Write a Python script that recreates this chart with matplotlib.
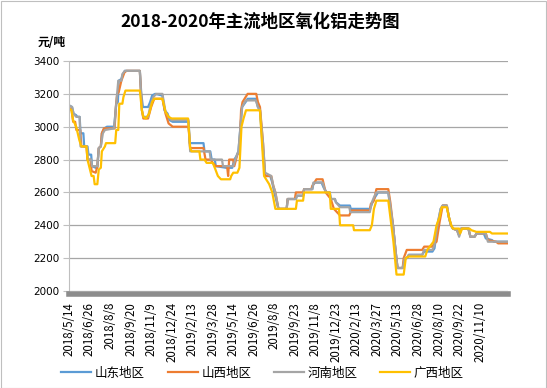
import matplotlib
matplotlib.use("Agg")
import matplotlib.pyplot as plt
import numpy as np
from matplotlib.patches import Rectangle

plt.rcParams['font.family'] = ['Noto Sans CJK SC', 'DejaVu Sans']

title = "2018-2020年主流地区氧化铝走势图"
unit = "元/吨"
date_labels = ["2018/5/14", "2018/6/26", "2018/8/8", "2018/9/20", "2018/11/9", "2018/12/24",
               "2019/2/13", "2019/3/28", "2019/5/14", "2019/6/26", "2019/8/8", "2019/9/23",
               "2019/11/8", "2019/12/23", "2020/2/13", "2020/3/27", "2020/5/13", "2020/6/28",
               "2020/8/10", "2020/9/22", "2020/11/10"]
series_names = ["山东地区", "山西地区", "河南地区", "广西地区"]
colors = ["#5B9BD5", "#ED7D31", "#A5A5A5", "#FFC000"]

# positions are in units of the label spacing (0 = 2018/5/14)
shandong_x = [0, 0.15, 0.22, 0.35, 0.4, 0.52, 0.56, 0.7, 0.74, 0.9, 0.95, 1.08, 1.12, 1.3, 1.38, 1.45, 1.55, 1.6, 1.72, 1.85, 2.2, 2.3, 2.38, 2.42, 2.55, 2.62, 2.72, 3.45, 3.52, 3.6, 3.85, 3.95, 4.05, 4.2, 4.55, 4.65, 4.8, 4.9, 5.05, 5.82, 5.88, 6.55, 6.6, 6.88, 6.95, 7.1, 7.15, 7.65, 7.95, 8.05, 8.15, 8.25, 8.35, 8.43, 8.6, 8.7, 9.1, 9.2, 9.3, 9.42, 9.55, 9.8, 9.9, 10.0, 10.2, 10.6, 10.65, 11.05, 11.1, 11.4, 11.45, 11.85, 11.9, 12.0, 12.3, 12.4, 12.55, 12.7, 12.75, 12.95, 13.0, 13.2, 13.68, 13.72, 14.65, 14.75, 14.85, 14.95, 15.05, 15.55, 15.65, 15.78, 15.9, 16.0, 16.25, 16.35, 16.45, 16.55, 17.2, 17.3, 17.7, 17.8, 17.95, 18.1, 18.2, 18.4, 18.5, 18.6, 18.7, 18.9, 19.0, 19.1, 19.45, 19.55, 19.75, 19.85, 20.2, 20.3, 20.6, 20.7, 21.4]
shandong_y = [3130, 3120, 3080, 3070, 3060, 3060, 2960, 2960, 2880, 2880, 2830, 2830, 2760, 2750, 2750, 2870, 2880, 2960, 2990, 3000, 3000, 3140, 3150, 3280, 3290, 3320, 3340, 3340, 3200, 3120, 3120, 3150, 3190, 3200, 3190, 3100, 3080, 3040, 3030, 3030, 2900, 2900, 2850, 2850, 2800, 2800, 2760, 2750, 2750, 2800, 2820, 2850, 3000, 3120, 3150, 3170, 3170, 3120, 3100, 2900, 2700, 2700, 2660, 2600, 2500, 2500, 2560, 2560, 2580, 2580, 2620, 2620, 2650, 2660, 2660, 2630, 2600, 2600, 2560, 2560, 2540, 2520, 2520, 2500, 2500, 2530, 2560, 2580, 2600, 2600, 2500, 2400, 2250, 2140, 2140, 2200, 2200, 2220, 2220, 2240, 2240, 2260, 2400, 2500, 2520, 2520, 2450, 2400, 2380, 2370, 2340, 2380, 2380, 2330, 2330, 2350, 2350, 2320, 2310, 2300, 2300]

shanxi_x = [0, 0.12, 0.2, 0.3, 0.36, 0.55, 0.6, 0.85, 0.9, 1.05, 1.1, 1.3, 1.38, 1.45, 1.55, 1.6, 1.7, 2.22, 2.3, 2.35, 2.42, 2.55, 2.7, 2.8, 3.45, 3.55, 3.62, 3.85, 4.0, 4.15, 4.55, 4.7, 4.85, 5.05, 5.82, 5.9, 6.55, 6.65, 6.9, 7.0, 7.15, 7.7, 7.75, 7.8, 8.0, 8.05, 8.2, 8.3, 8.38, 8.45, 8.6, 8.7, 9.12, 9.2, 9.3, 9.45, 9.55, 9.85, 9.95, 10.05, 10.2, 10.6, 10.65, 11.0, 11.05, 11.4, 11.45, 11.8, 11.85, 12.05, 12.35, 12.5, 12.75, 12.9, 13.2, 13.65, 13.75, 14.65, 14.7, 14.85, 14.97, 15.55, 15.65, 15.78, 15.9, 16.0, 16.25, 16.3, 16.45, 17.2, 17.3, 17.7, 17.8, 17.9, 18.05, 18.2, 18.4, 18.5, 18.6, 18.7, 18.9, 19.0, 19.1, 19.45, 19.55, 19.75, 19.85, 20.3, 20.4, 20.8, 20.9, 21.4]
shanxi_y = [3110, 3110, 3030, 3030, 2980, 2980, 2880, 2880, 2800, 2800, 2730, 2720, 2760, 2870, 2880, 2960, 2990, 2990, 3150, 3200, 3210, 3280, 3330, 3340, 3340, 3100, 3050, 3050, 3120, 3170, 3170, 3080, 3020, 3000, 3000, 2870, 2870, 2800, 2800, 2780, 2760, 2760, 2700, 2800, 2800, 2760, 2830, 2850, 3100, 3150, 3180, 3200, 3200, 3150, 3120, 2900, 2700, 2700, 2640, 2600, 2500, 2500, 2560, 2560, 2600, 2600, 2620, 2620, 2640, 2680, 2680, 2600, 2560, 2500, 2460, 2460, 2490, 2490, 2530, 2550, 2620, 2620, 2540, 2400, 2250, 2140, 2140, 2200, 2250, 2250, 2270, 2270, 2290, 2300, 2420, 2520, 2520, 2450, 2400, 2380, 2370, 2340, 2380, 2380, 2330, 2330, 2350, 2350, 2310, 2300, 2290, 2290]

henan_x = [0, 0.15, 0.22, 0.35, 0.52, 0.56, 0.88, 0.92, 1.08, 1.12, 1.38, 1.45, 1.55, 1.65, 1.75, 2.2, 2.3, 2.4, 2.55, 2.6, 2.72, 3.45, 3.55, 3.62, 3.85, 3.95, 4.1, 4.25, 4.55, 4.7, 4.85, 5.0, 5.82, 5.9, 6.85, 6.9, 7.45, 7.5, 8.0, 8.1, 8.25, 8.35, 8.43, 8.6, 9.1, 9.2, 9.3, 9.45, 9.55, 9.85, 9.95, 10.05, 10.2, 10.6, 10.65, 11.05, 11.1, 11.4, 11.45, 11.85, 11.9, 12.35, 12.5, 12.7, 12.75, 12.95, 13.0, 13.2, 13.65, 13.7, 14.65, 14.75, 14.85, 14.97, 15.55, 15.65, 15.78, 15.9, 16.0, 16.25, 16.35, 16.45, 16.55, 17.2, 17.3, 17.7, 17.8, 17.95, 18.1, 18.2, 18.4, 18.5, 18.6, 18.7, 18.9, 19.0, 19.1, 19.45, 19.55, 19.75, 19.85, 20.3, 20.4, 21.4]
henan_y = [3130, 3120, 3080, 3060, 3060, 2880, 2880, 2800, 2800, 2760, 2760, 2870, 2880, 2960, 2980, 2990, 3140, 3280, 3280, 3320, 3340, 3340, 3100, 3060, 3060, 3120, 3180, 3200, 3200, 3090, 3060, 3040, 3040, 2850, 2850, 2800, 2800, 2760, 2760, 2800, 2850, 3000, 3120, 3160, 3160, 3120, 3100, 2900, 2720, 2700, 2640, 2600, 2500, 2500, 2560, 2560, 2580, 2580, 2620, 2620, 2660, 2660, 2600, 2600, 2560, 2560, 2540, 2510, 2510, 2480, 2480, 2540, 2570, 2600, 2600, 2520, 2400, 2250, 2140, 2140, 2200, 2200, 2220, 2220, 2250, 2250, 2280, 2410, 2500, 2520, 2520, 2450, 2400, 2380, 2370, 2330, 2380, 2380, 2330, 2330, 2350, 2350, 2300, 2300]

guangxi_x = [0, 0.12, 0.2, 0.35, 0.5, 0.6, 0.85, 0.9, 1.0, 1.1, 1.2, 1.25, 1.38, 1.45, 1.55, 1.6, 1.75, 1.8, 2.25, 2.3, 2.4, 2.45, 2.6, 2.65, 2.75, 3.45, 3.55, 3.62, 3.75, 3.9, 4.05, 4.15, 4.55, 4.7, 4.85, 5.0, 5.8, 5.9, 5.97, 6.35, 6.4, 6.6, 6.7, 7.0, 7.1, 7.25, 7.4, 7.85, 7.9, 8.0, 8.2, 8.3, 8.4, 8.5, 8.62, 9.3, 9.4, 9.5, 9.75, 9.9, 10.05, 11.05, 11.1, 11.4, 11.45, 12.7, 12.75, 13.15, 13.2, 13.84, 13.88, 14.65, 14.75, 14.85, 14.97, 15.55, 15.65, 15.8, 15.95, 16.3, 16.4, 16.55, 17.35, 17.45, 17.75, 17.9, 18.05, 18.15, 18.4, 18.5, 18.62, 18.7, 19.0, 19.05, 19.15, 19.5, 19.6, 19.84, 20.5, 20.6, 21.4]
guangxi_y = [3110, 3100, 3040, 3000, 2920, 2880, 2880, 2800, 2750, 2700, 2700, 2650, 2650, 2740, 2750, 2850, 2880, 2900, 2900, 2980, 2980, 3140, 3140, 3180, 3220, 3220, 3100, 3060, 3050, 3080, 3150, 3170, 3170, 3090, 3060, 3050, 3050, 2870, 2850, 2850, 2800, 2800, 2780, 2780, 2750, 2700, 2680, 2680, 2700, 2720, 2720, 2750, 3000, 3050, 3100, 3100, 2900, 2700, 2650, 2600, 2500, 2500, 2550, 2550, 2600, 2600, 2500, 2500, 2400, 2400, 2370, 2370, 2400, 2500, 2550, 2550, 2450, 2300, 2100, 2100, 2200, 2210, 2210, 2250, 2300, 2400, 2450, 2510, 2510, 2450, 2400, 2380, 2380, 2350, 2380, 2380, 2370, 2360, 2360, 2350, 2350]

series_x = [shandong_x, shanxi_x, henan_x, guangxi_x]
series_y = [shandong_y, shanxi_y, henan_y, guangxi_y]
y_ticks = [2000, 2200, 2400, 2600, 2800, 3000, 3200, 3400]

fig = plt.figure(figsize=(5.47, 3.88), dpi=100)
fig.patch.set_facecolor("white")
fig.patches.append(Rectangle((0.001, 0.001), 0.997, 0.997, transform=fig.transFigure,
                             fill=False, edgecolor="#bfbfbf", linewidth=0.8))

ax = fig.add_axes([69/547, 1-291/388, (508-69)/547, (291-61)/388])

for xs, ys, c, n in zip(series_x, series_y, colors, series_names):
    ax.plot(xs, ys, color=c, linewidth=1.6, label=n, solid_joinstyle="round")

ax.set_xlim(0, 21.38)
ax.set_ylim(2000, 3400)
ax.set_yticks(y_ticks)
ax.set_yticklabels([str(v) for v in y_ticks])
ax.set_xticks(range(len(date_labels)))
ax.set_xticklabels(date_labels)
ax.tick_params(axis="y", length=4, color="#bfbfbf", pad=3, labelsize=7.5)
ax.tick_params(axis="x", length=0, pad=6, labelsize=8.3, labelrotation=90)
for lab in ax.get_xticklabels() + ax.get_yticklabels():
    lab.set_family("DejaVu Sans")
ax.grid(axis="y", color="#a6a6a6", linewidth=0.9)
ax.set_axisbelow(True)
for s in ["top", "right"]:
    ax.spines[s].set_visible(False)
ax.spines["left"].set_color("#bfbfbf")
ax.spines["left"].set_linewidth(0.8)
ax.spines["bottom"].set_color("#8c8c8c")
ax.spines["bottom"].set_linewidth(4)
ax.spines["bottom"].set_position(("outward", 2))

fig.text(260/547, 1-22/388, title, ha="center", va="center", fontsize=12.5, fontweight="bold")
fig.text(52/547, 1-42/388, unit, ha="center", va="center", fontsize=8.5, fontweight="bold")

leg = fig.legend(loc="center", bbox_to_anchor=(0.48, 1-373/388), ncol=4, frameon=False,
                 fontsize=9, handlelength=2.4, columnspacing=1.8, handletextpad=0.3)

fig.savefig("out.png", dpi=100)
